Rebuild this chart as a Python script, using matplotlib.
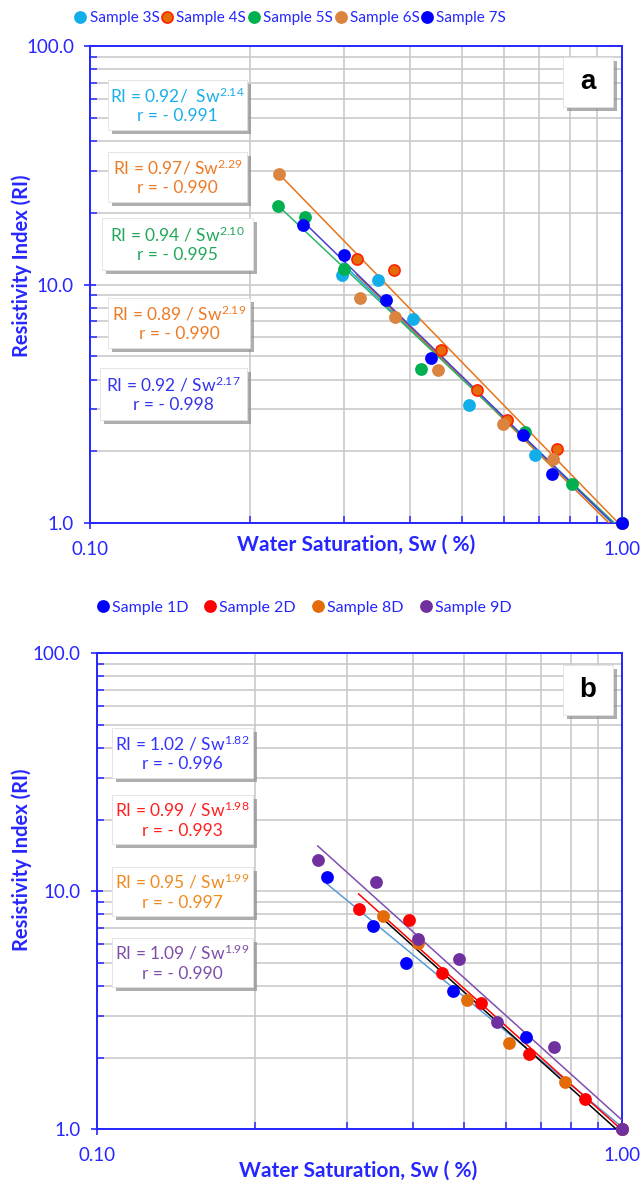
import matplotlib
matplotlib.use('Agg')
import matplotlib.pyplot as plt
from matplotlib.patches import Rectangle
from matplotlib.ticker import FixedLocator, NullFormatter

plt.rcParams['font.family'] = ['Lato', 'DejaVu Sans']
plt.rcParams['mathtext.default'] = 'regular'

AZUL = '#2626FF'

# ---- Panel a: muestras S ----
sw_3s = [0.298, 0.3475, 0.4043, 0.5164, 0.686, 1.0]
ri_3s = [10.98, 10.4, 7.14, 3.13, 1.93, 1.0]
sw_4s = [0.3173, 0.3723, 0.4571, 0.5352, 0.6093, 0.756, 1.0]
ri_4s = [12.8, 11.5, 5.30, 3.62, 2.71, 2.04, 1.0]
sw_5s = [0.2255, 0.254, 0.300, 0.4202, 0.6577, 0.807, 1.0]
ri_5s = [21.3, 19.1, 11.6, 4.42, 2.41, 1.46, 1.0]
sw_6s = [0.227, 0.3224, 0.3746, 0.4517, 0.5981, 0.742, 1.0]
ri_6s = [29.0, 8.76, 7.31, 4.38, 2.61, 1.85, 1.0]
sw_7s = [0.252, 0.300, 0.3603, 0.4377, 0.652, 0.738, 1.0]
ri_7s = [17.8, 13.3, 8.65, 4.93, 2.35, 1.61, 1.0]

# ajustes RI = a / Sw^n
a_s = [0.92, 0.89, 0.94, 0.97, 0.92]
n_s = [2.14, 2.19, 2.10, 2.29, 2.17]
r_s = ['- 0.991', '- 0.990', '- 0.995', '- 0.990', '- 0.998']
sep_s = ['/  ', ' / ', ' / ', '/ ', ' / ']
etiquetas_s = ['Sample 3S', 'Sample 4S', 'Sample 5S', 'Sample 6S', 'Sample 7S']

# ---- Panel b: muestras D ----
sw_1d = [0.2739, 0.336, 0.3877, 0.4757, 0.6558, 1.0]
ri_1d = [11.5, 7.17, 5.01, 3.82, 2.44, 1.0]
sw_2d = [0.315, 0.3933, 0.4546, 0.5377, 0.6653, 0.849, 1.0]
ri_2d = [8.43, 7.57, 4.52, 3.38, 2.07, 1.34, 1.0]
sw_8d = [0.350, 0.4092, 0.5058, 0.6095, 0.778, 1.0]
ri_8d = [7.87, 6.05, 3.49, 2.30, 1.585, 1.0]
sw_9d = [0.2633, 0.340, 0.4081, 0.4897, 0.5783, 0.7425, 1.0]
ri_9d = [13.6, 10.97, 6.30, 5.18, 2.82, 2.21, 1.0]

a_d = [1.02, 0.99, 0.95, 1.09]
n_d = [1.82, 1.98, 1.99, 1.99]
r_d = ['- 0.996', '- 0.993', '- 0.997', '- 0.990']
etiquetas_d = ['Sample 1D', 'Sample 2D', 'Sample 8D', 'Sample 9D']

# colores: relleno, borde, linea de tendencia, texto de la ecuacion
col_s = [('#12AEEA', '#12AEEA', '#12AEEA', '#1BAEE8'),
         ('#E46C0A', '#FF2200', '#E46C0A', '#EE7A25'),
         ('#00B050', '#00B050', '#2DB36A', '#22A85A'),
         ('#DA8440', '#DA8440', '#E8741A', '#EE7A25'),
         ('#0000FF', '#0000FF', '#4B3CD0', '#3333EE')]
col_d = [('#0000FF', '#0000FF', '#5B9BD5', '#3333FF'),
         ('#FF0000', '#FF0000', '#FF0000', '#FF2020'),
         ('#E36C09', '#E36C09', '#000000', '#F08A20'),
         ('#7030A0', '#7030A0', '#7E4FB0', '#7E4FA8')]

# cajas de ecuaciones en pixeles de la figura (x0, y0, x1, y1), y hacia abajo
cajas_s = [(108, 80, 247, 130), (108, 152, 247, 202), (102, 218, 253, 270),
           (108, 298, 250, 348), (100, 368, 247, 420)]
orden_cajas_s = [0, 3, 2, 1, 4]
cajas_d = [(112, 728, 253, 778), (112, 795, 253, 844),
           (112, 867, 253, 916), (112, 938, 253, 987)]

W, H = 644, 1182
fig = plt.figure(figsize=(W / 100, H / 100), dpi=100)
ax1 = fig.add_axes([90 / W, 1 - 523.3 / H, 531.7 / W, 477.6 / H])
ax2 = fig.add_axes([96.7 / W, 1 - 1129.3 / H, 525.6 / W, 476 / H])


def caja(x0, y0, x1, y1, lineas, color, size=12.5, weight='normal', family=None):
    # sombra gris y caja blanca en coordenadas de figura
    sx, sy = 4, 4
    fig.patches.append(Rectangle(((x0 + sx) / W, 1 - (y1 + sy) / H), (x1 - x0) / W, (y1 - y0) / H,
                                 transform=fig.transFigure, facecolor='#8C8C8C', edgecolor='none',
                                 alpha=0.7, zorder=5))
    fig.patches.append(Rectangle((x0 / W, 1 - y1 / H), (x1 - x0) / W, (y1 - y0) / H,
                                 transform=fig.transFigure, facecolor='white', edgecolor='#E0E0E0',
                                 lw=0.6, zorder=6))
    kw = {}
    if family:
        kw['family'] = family
    fig.text((x0 + x1) / 2 / W, 1 - (y0 + y1) / 2 / H, lineas, ha='center', va='center',
             color=color, fontsize=size, weight=weight, linespacing=1.25, zorder=7, **kw)


def panel(ax, series, ajustes, colores, etiquetas):
    ax.set_xscale('log')
    ax.set_yscale('log')
    for (sw, ri), (a, n), (fc, ec, lc, tc), lab in zip(series, ajustes, colores, etiquetas):
        x0 = min(sw)
        xs = [x0 * (1.0 / x0) ** (i / 100) for i in range(101)]
        ax.plot(xs, [a / x ** n for x in xs], color=lc, lw=1.1, zorder=3)
        ax.plot(sw, ri, 'o', ms=8, mfc=fc, mec=ec, mew=1.2, label=lab, zorder=4, clip_on=False)
    ax.set_xlim(0.1, 1.0)
    ax.set_ylim(1, 100)
    ax.xaxis.set_major_locator(FixedLocator([0.1, 1.0]))
    ax.xaxis.set_minor_locator(FixedLocator([0.2, 0.3, 0.4, 0.5, 0.6, 0.7, 0.8, 0.9]))
    ax.yaxis.set_major_locator(FixedLocator([1, 10, 100]))
    ax.yaxis.set_minor_locator(FixedLocator([2, 3, 4, 5, 6, 7, 8, 9, 20, 30, 40, 50, 60, 70, 80, 90]))
    ax.xaxis.set_minor_formatter(NullFormatter())
    ax.yaxis.set_minor_formatter(NullFormatter())
    ax.set_xticklabels(['0.10', '1.00'])
    ax.set_yticklabels(['1.0', '10.0', '100.0'])
    ax.set_axisbelow(True)
    ax.grid(True, which='both', color='#C6C6C6', lw=1.1)
    ax.tick_params(which='major', direction='inout', length=9, width=1.2, color=AZUL,
                   labelcolor=AZUL, labelsize=13.5)
    ax.tick_params(axis='x', which='major', pad=8)
    ax.tick_params(axis='y', which='major', pad=7)
    ax.tick_params(which='minor', direction='in', length=5, width=1.1, color=AZUL)
    for s in ax.spines.values():
        s.set_color(AZUL)
        s.set_linewidth(1.4)
    ax.set_xlabel('Water Saturation, Sw ( %)', color=AZUL, fontsize=15, weight='bold')
    ax.set_ylabel('Resistivity Index (RI)', color=AZUL, fontsize=14.5, weight='bold')


panel(ax1, [(sw_3s, ri_3s), (sw_4s, ri_4s), (sw_5s, ri_5s), (sw_6s, ri_6s), (sw_7s, ri_7s)],
      list(zip(a_s, n_s)), col_s, etiquetas_s)
panel(ax2, [(sw_1d, ri_1d), (sw_2d, ri_2d), (sw_8d, ri_8d), (sw_9d, ri_9d)],
      list(zip(a_d, n_d)), col_d, etiquetas_d)

ax1.xaxis.set_label_coords(0.5, -0.024)
ax1.yaxis.set_label_coords(-0.11, 0.54)
ax2.xaxis.set_label_coords(0.497, -0.065)
ax2.yaxis.set_label_coords(-0.124, 0.566)

fig.legend(*ax1.get_legend_handles_labels(), loc='center', bbox_to_anchor=(0.452, 1 - 18 / H),
           ncol=5, frameon=False, fontsize=11, labelcolor=AZUL, handletextpad=0.3,
           columnspacing=0.2, handlelength=0.6)
fig.legend(*ax2.get_legend_handles_labels(), loc='center', bbox_to_anchor=(0.473, 1 - 608 / H),
           ncol=4, frameon=False, fontsize=11.5, labelcolor=AZUL, handletextpad=0.25,
           columnspacing=1.1, handlelength=0.6)

# ecuaciones del panel a
for i, k in enumerate(orden_cajas_s):
    tc = col_s[k][3]
    txt = 'RI = %.2f%sSw$^{%.2f}$\nr = %s' % (a_s[k], sep_s[k], n_s[k], r_s[k])
    caja(*cajas_s[i], txt, tc)

# ecuaciones del panel b
for i in range(4):
    txt = 'RI = %.2f / Sw$^{%.2f}$\nr = %s' % (a_d[i], n_d[i], r_d[i])
    caja(*cajas_d[i], txt, col_d[i][3])

caja(563, 57, 613, 107, 'a', 'black', size=20, weight='bold', family=['Liberation Sans', 'DejaVu Sans'])
caja(563, 665, 613, 715, 'b', 'black', size=20, weight='bold', family=['Liberation Sans', 'DejaVu Sans'])

fig.savefig('out.png', dpi=100)
